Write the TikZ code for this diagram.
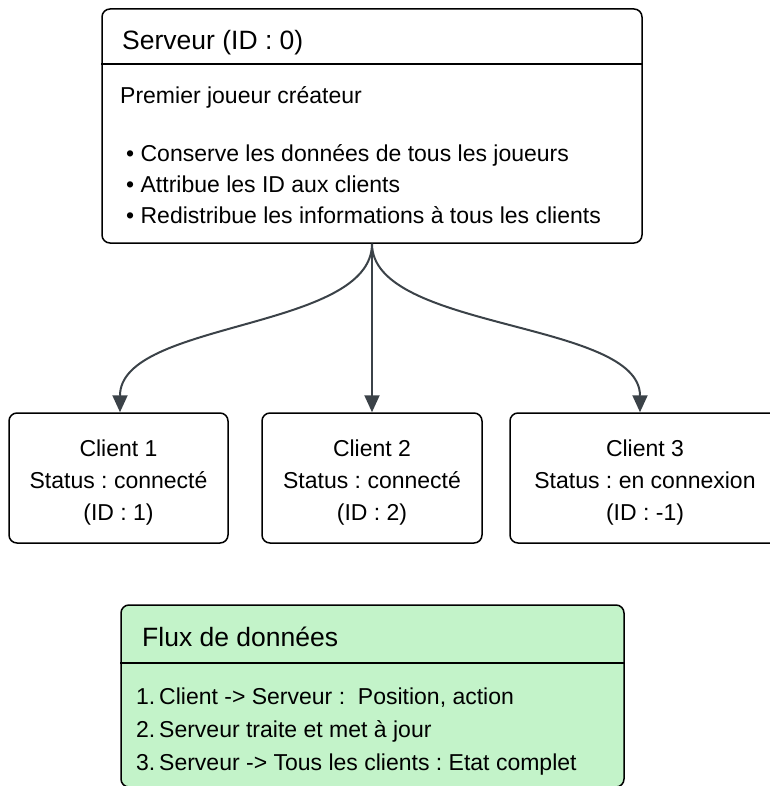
\documentclass[tikz,border=0pt]{standalone}
\usepackage{fontspec}
\setmainfont{Liberation Sans}
\usetikzlibrary{arrows.meta}
\frenchspacing

\definecolor{linkgray}{HTML}{3B4248}
\definecolor{notegreen}{HTML}{C3F3C9}

\tikzset{
  box/.style={draw=black, line width=1.5pt, rounded corners=8pt, inner sep=0pt},
  sep/.style={draw=black, line width=1.5pt},
  titletext/.style={anchor=base west, inner sep=0pt, font=\fontsize{26.5}{30}\selectfont},
  bodytext/.style={anchor=base west, inner sep=0pt, font=\fontsize{23}{28}\selectfont},
  centertext/.style={anchor=base, inner sep=0pt, font=\fontsize{23}{28}\selectfont},
  link/.style={draw=linkgray, line width=2pt, -{Triangle[length=17pt,width=15pt]}},
}

\begin{document}
\begin{tikzpicture}[x=1pt, y=-1pt]
  \useasboundingbox (0,0) rectangle (769,786);

  % Server box
  \node[box, minimum width=540pt, minimum height=234pt] (srv) at (372,126) {};
  \draw[sep] (srv.west |- 0,64) -- (srv.east |- 0,64);
  \node[titletext] (srvtitle) at (122,50) {Serveur (ID : 0)};
  \node[bodytext] (srvrole) at (120,104) {Premier joueur créateur};
  \node[bodytext] (srvb1) at (126,162) {• Conserve les données de tous les joueurs};
  \node[bodytext] (srvb2) at (126,193) {• Attribue les ID aux clients};
  \node[bodytext] (srvb3) at (126,224) {• Redistribue les informations à tous les clients};

  % Client boxes
  \node[box, minimum width=219pt, minimum height=130pt] (c1) at (118.5,478) {};
  \node[box, minimum width=220pt, minimum height=130pt] (c2) at (372,478) {};
  \node[box, minimum width=270pt, minimum height=130pt] (c3) at (645,478) {};

  \node[centertext] (c1a) at (118.5,456) {Client 1};
  \node[centertext] (c1b) at (118.5,488) {Status : connecté};
  \node[centertext] (c1c) at (118.5,520) {(ID : 1)};

  \node[centertext] (c2a) at (372,456) {Client 2};
  \node[centertext] (c2b) at (372,488) {Status : connecté};
  \node[centertext] (c2c) at (372,520) {(ID : 2)};

  \node[centertext] (c3a) at (645,456) {Client 3};
  \node[centertext] (c3b) at (645,488) {Status : en connexion};
  \node[centertext] (c3c) at (645,520) {(ID : -1)};

  % Links from the server to each client
  \coordinate (c1in) at ([xshift=1.5pt]c1.north);
  \coordinate (c3in) at ([xshift=-5pt]c3.north);
  \draw[link] (srv.south) .. controls +(0,87) and +(0,-92) .. (c1in);
  \draw[link] (srv.south) -- (c2.north);
  \draw[link] (srv.south) .. controls +(0,87) and +(0,-92) .. (c3in);

  % Data flow note (its lower edge runs along the page border)
  \node[box, fill=notegreen, minimum width=503pt, minimum height=182pt] (flux) at (372.5,696) {};
  \draw[sep] (flux.west |- 0,663) -- (flux.east |- 0,663);
  \node[titletext] (fluxtitle) at (142,646) {Flux de données};
  \node[bodytext] (flux1) at (136,704) {\makebox[23pt][l]{1.}Client -> Serveur : \ Position, action};
  \node[bodytext] (flux2) at (136,737) {\makebox[23pt][l]{2.}Serveur traite et met à jour};
  \node[bodytext] (flux3) at (136,770) {\makebox[23pt][l]{3.}Serveur -> Tous les clients : Etat complet};
\end{tikzpicture}
\end{document}
